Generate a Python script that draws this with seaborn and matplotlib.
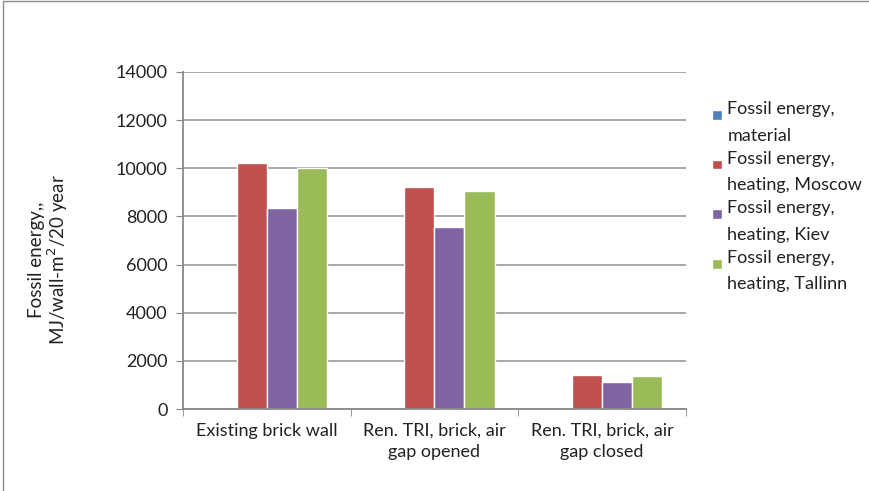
import matplotlib
matplotlib.use("Agg")
import matplotlib.pyplot as plt
import seaborn as sns
import pandas as pd
from matplotlib.patches import Rectangle
from matplotlib.legend_handler import HandlerPatch

# Chart data
categories = ["Existing brick wall", "Ren. TRI, brick, air\ngap opened", "Ren. TRI, brick, air\ngap closed"]
series = ["Fossil energy,\nmaterial", "Fossil energy,\nheating, Moscow",
          "Fossil energy,\nheating, Kiev", "Fossil energy,\nheating, Tallinn"]
material = [0, 0, 0]
moscow = [10200, 9240, 1400]
kiev = [8370, 7580, 1140]
tallinn = [10000, 9040, 1390]
colors = ["#4F81BD", "#C0504D", "#8064A2", "#9BBB59"]
yticks = [0, 2000, 4000, 6000, 8000, 10000, 12000, 14000]

rows = []
for name, vals in zip(series, [material, moscow, kiev, tallinn]):
    for cat, v in zip(categories, vals):
        rows.append({"category": cat, "series": name, "value": v})
df = pd.DataFrame(rows)

sns.set_style("white")
plt.rcParams["font.family"] = ["Lato", "DejaVu Sans"]
plt.rcParams["font.size"] = 13

fig = plt.figure(figsize=(8.7, 4.91), dpi=100)
ax = fig.add_axes([0.2103, 0.167, 0.5782, 0.6864])

sns.barplot(data=df, x="category", y="value", hue="series", palette=colors,
            width=0.716, gap=0, saturation=1, ax=ax, legend=True)

ax.set_ylim(0, 14000)
ax.set_xlim(-0.5, 2.5)
ax.set_yticks(yticks)
ax.set_yticklabels([str(t) for t in yticks], color="#222222")
ax.yaxis.grid(True, color="#9a9a9a", linewidth=1.2)
ax.set_axisbelow(True)
for side in ["top", "right"]:
    ax.spines[side].set_visible(False)
for side in ["left", "bottom"]:
    ax.spines[side].set_color("#888888")
    ax.spines[side].set_linewidth(1.3)

ax.tick_params(axis="y", which="major", length=5, color="#888888", left=True, pad=6)
ax.tick_params(axis="x", which="major", length=0, pad=10, colors="#222222")
for lbl in ax.get_xticklabels():
    lbl.set_linespacing(1.36)
ax.set_xticks([-0.5, 0.5, 1.5, 2.5], minor=True)
ax.tick_params(axis="x", which="minor", length=5, color="#888888", bottom=True)

ax.set_xlabel("")
ax.set_ylabel("Fossil energy,,\nMJ/wall-m$^2$/20 year", color="#222222",
              fontsize=13.5, linespacing=1.0)
ax.yaxis.set_label_coords(-0.225, 0.442)


# legend square sits beside the first line of each two-line label
def top_square(legend, orig_handle, xdescent, ydescent, width, height, fontsize):
    s = 0.55 * fontsize
    return Rectangle((-xdescent, 0.5 * fontsize), s, s)


handles, labels = ax.get_legend_handles_labels()
leg = ax.legend(handles, labels, loc="upper left", bbox_to_anchor=(0.8184, 0.794),
                bbox_transform=fig.transFigure, frameon=False, borderpad=0,
                borderaxespad=0, handlelength=0.55, handleheight=0.55,
                handletextpad=0.3, labelspacing=0.4, labelcolor="#222222",
                handler_map={Rectangle: HandlerPatch(patch_func=top_square)})
for t in leg.get_texts():
    t.set_linespacing(1.8)

# Excel-style chart border
fig.patches.append(Rectangle((0.003, -0.05), 1.1, 1.047, transform=fig.transFigure,
                             fill=False, edgecolor="#8c8c8c", linewidth=1.0))

fig.savefig("out.png", dpi=100)
